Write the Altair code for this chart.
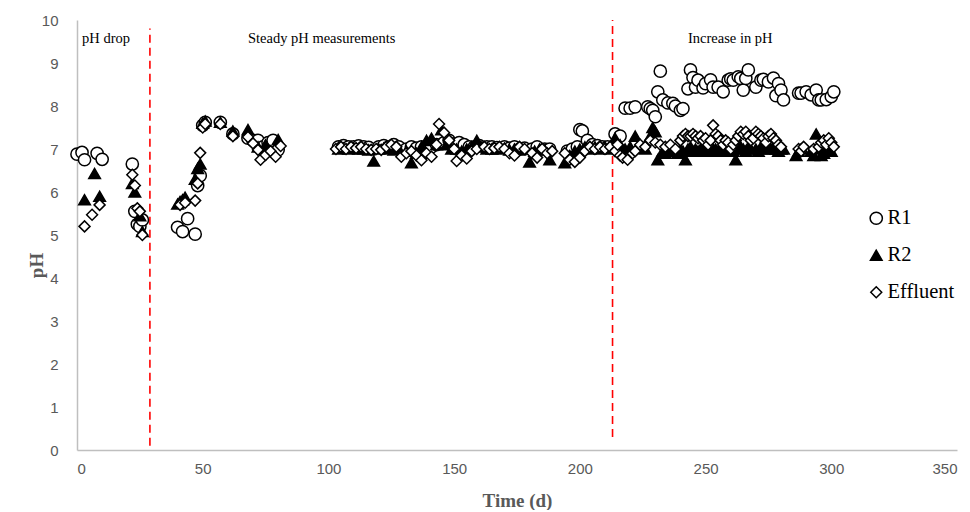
import altair as alt
import pandas as pd

# ---------------- data ----------------
r1_day = [0, 2, 3, 8, 10,
          22, 23, 24, 25, 26,
          40, 42, 44, 47, 48, 49,
          50, 51, 57, 62, 68, 70, 72, 74, 76, 78, 80,
          104, 106, 108, 110, 112, 114, 116, 120, 122, 124, 126, 128, 131, 133, 135, 137,
          139, 141, 143, 146, 148, 150, 152, 154, 156, 158, 160, 163, 165, 167, 170, 172,
          174, 176, 178, 181, 183, 186, 188, 195, 197, 199, 200, 201, 203, 205, 207, 209, 211,
          214, 216, 218, 220, 222, 227, 228, 229, 230, 231, 232, 233, 235, 237, 238, 240, 241,
          243, 244, 245, 246, 247, 249, 250, 252, 253, 255, 257, 259, 260, 261, 263, 264, 265,
          266, 267, 270, 272, 273, 275, 277, 278, 279, 280, 281, 287, 288, 290, 292, 294, 295,
          296, 298, 300, 301]
r1_ph = [6.88, 6.92, 6.75, 6.9, 6.76,
         6.65, 5.55, 5.25, 5.2, 5.35,
         5.18, 5.08, 5.38, 5.02, 6.15, 6.38,
         7.55, 7.62, 7.62, 7.35, 7.25, 7.2, 7.2, 7.05, 7.15, 7.2, 6.98,
         7.05, 7.08, 7.05, 7.05, 7.07, 7.05, 7.04, 7.05, 7.08, 7.05, 7.1, 7.05, 7.0, 7.05, 7.02, 7.05,
         7.0, 7.05, 7.1, 7.15, 7.2, 7.12, 7.15, 7.1, 7.05, 7.05, 7.08, 7.05, 7.05, 7.03, 7.05, 7.02,
         7.05, 7.0, 7.02, 7.0, 7.05, 7.0, 7.0, 6.95, 7.0, 7.05, 7.45, 7.42, 7.2, 7.1, 7.08, 7.05, 7.05,
         7.35, 7.3, 7.95, 7.95, 7.98, 7.98, 7.94, 7.9, 7.75, 8.33, 8.81, 8.14, 8.07, 8.06, 8.0, 7.9, 7.94,
         8.4, 8.84, 8.66, 8.44, 8.6, 8.42, 8.52, 8.61, 8.44, 8.44, 8.33, 8.6, 8.63, 8.6, 8.68, 8.64, 8.37,
         8.64, 8.84, 8.44, 8.6, 8.62, 8.56, 8.65, 8.24, 8.52, 8.37, 8.14, 8.3, 8.3, 8.33, 8.26, 8.37, 8.14,
         8.14, 8.15, 8.22, 8.33]

r2_day = [3, 7, 9,
          22, 23, 25, 26,
          40, 41, 42, 43, 47, 48, 49,
          50, 51, 57, 62, 68, 72, 75, 80,
          104, 106, 108, 110, 112, 114, 116, 118, 120, 122, 124, 126, 128, 131, 133, 135, 137,
          139, 141, 143, 145, 147, 149, 151, 153, 155, 157, 159, 161, 163, 165, 167, 170, 172,
          174, 176, 178, 180, 182, 184, 186, 188, 194, 196, 198, 200, 202, 204, 206, 208, 210, 212,
          214, 216, 218, 220, 222, 224, 226, 228, 229, 230, 231, 233, 234, 235, 236, 237, 238, 239,
          240, 241, 242, 243, 244, 245, 246, 247, 248, 249, 250, 251, 252, 253, 254, 255, 256, 257,
          258, 259, 260, 261, 262, 263, 264, 265, 266, 267, 268, 270, 271, 272, 273, 274, 275, 276,
          277, 278, 279, 280, 281, 286, 287, 288, 292, 293, 294, 295, 296, 297, 298, 299, 300]
r2_ph = [5.82, 6.43, 5.9,
         6.2, 6.0, 5.45, 5.08,
         5.72, 5.78, 5.82, 5.88, 6.3, 6.55, 6.65,
         7.6, 7.65, 7.62, 7.42, 7.45, 7.05, 7.1, 7.22,
         7.0, 7.02, 7.0, 7.02, 7.0, 7.0, 6.98, 6.72, 7.0, 7.02, 7.0, 6.98, 7.0, 6.95, 6.68, 6.9, 7.05,
         7.2, 7.25, 7.1, 7.45, 7.1, 7.0, 7.0, 6.95, 7.0, 7.05, 7.2, 7.05, 7.0, 7.0, 7.0, 7.02, 6.98,
         7.0, 6.98, 7.0, 6.7, 6.95, 7.0, 6.98, 6.75, 6.68, 6.85, 6.95, 7.0, 7.05, 7.0, 7.05, 7.0, 7.05, 7.0,
         7.25, 7.1, 7.0, 7.05, 7.3, 7.1, 7.0, 7.3, 7.5, 7.4, 6.75, 6.95, 6.9, 7.0, 6.95, 6.95, 7.0, 6.9,
         7.0, 6.95, 6.75, 7.0, 7.05, 6.95, 7.0, 6.95, 7.0, 7.05, 6.95, 7.0, 6.95, 7.0, 7.0, 6.95, 7.0, 7.05,
         6.95, 7.0, 7.0, 6.95, 6.75, 7.0, 7.05, 7.0, 6.95, 7.05, 7.0, 7.0, 6.95, 7.05, 7.1, 7.0, 7.05, 7.0,
         7.05, 7.0, 6.95, 7.0, 7.0, 6.85, 6.95, 7.0, 6.95, 6.85, 7.35, 7.0, 6.85, 6.9, 7.0, 7.1, 6.95]

eff_day = [3, 6, 9,
           22, 23, 24, 25, 26,
           41, 43, 47, 48, 49,
           50, 51, 57, 62, 68, 70, 72, 73, 75, 77, 79, 81,
           103, 105, 107, 109, 111, 113, 115, 117, 119, 121, 123, 125, 127, 129, 131, 133, 135,
           137, 139, 141, 143, 144, 146, 148, 150, 151, 153, 155, 157, 159, 162, 164, 166, 168,
           170, 172, 174, 176, 178, 181, 183, 185, 187, 189, 194, 196, 198, 200, 202, 204, 206,
           208, 210, 212,
           214, 215, 216, 217, 219, 221, 222, 224, 226, 228, 230, 232, 234, 236, 238, 240, 241,
           242, 243, 244, 245, 246, 247, 248, 249, 250, 251, 252, 253, 254, 255, 256, 257, 258,
           259, 260, 261, 262, 263, 264, 265, 266, 267, 268, 269, 270, 271, 272, 273, 274, 275,
           276, 277, 278, 279, 280, 287, 288, 289, 293, 295, 296, 297, 298, 299, 300, 301]
eff_ph = [5.2, 5.47, 5.7,
          6.4, 6.15, 5.62, 5.55, 5.0,
          5.7, 5.75, 5.8, 6.2, 6.91,
          7.5, 7.58, 7.58, 7.3, 7.28, 7.13, 6.98, 6.75, 6.86, 6.95, 6.82, 7.07,
          7.0, 7.05, 7.0, 7.05, 7.02, 7.05, 7.0, 6.98, 7.0, 6.98, 7.05, 7.1, 7.05, 6.82, 6.9, 6.95, 6.85,
          6.74, 6.9, 6.82, 7.1, 7.58, 7.38, 7.2, 7.0, 6.72, 6.85, 6.78, 6.95, 7.0, 7.05, 7.0, 7.02, 7.05,
          7.0, 6.9, 6.85, 7.05, 7.0, 6.9, 6.8, 7.0, 6.9, 6.95, 6.9, 6.75, 6.7, 6.8, 6.95, 7.05, 7.0,
          7.05, 7.0, 7.05,
          6.95, 7.1, 6.85, 6.8, 6.75, 6.9, 6.95, 7.1, 7.05, 7.2, 7.15, 7.1, 7.05, 7.1, 7.0, 7.2, 7.3,
          7.35, 7.3, 7.3, 7.35, 7.3, 7.25, 7.3, 7.2, 7.25, 7.1, 7.2, 7.55, 7.35, 7.3, 7.2, 7.1, 7.2,
          7.15, 7.0, 7.1, 7.2, 7.3, 7.4, 7.35, 7.4, 7.3, 7.2, 7.25, 7.4, 7.35, 7.3, 7.25, 7.15, 7.3,
          7.35, 7.25, 7.2, 7.1, 7.05, 7.0, 6.95, 7.05, 7.0, 7.05, 7.15, 7.2, 7.1, 7.25, 7.15, 7.05]

series_names = ["R1", "R2", "Effluent"]
series_shapes = ["circle", "triangle-up", "diamond"]
series_fills = ["white", "black", "white"]
series_strokes = ["black", "black", "black"]
series_sizes = [150, 120, 105]

phase_bound_day = [29, 213]
phase_bound_bottom = [0.1, 0.3]
phase_bound_top = [9.8, 10.0]

phase_labels = ["pH drop", "Steady pH measurements", "Increase in pH"]
phase_label_day = [2, 68, 243]
phase_label_ph = [9.56, 9.56, 9.56]

x_ticks = [0, 50, 100, 150, 200, 250, 300, 350]
y_ticks = list(range(0, 11))

# ---------------- tables ----------------
rows = []
for name, days, vals in [("R1", r1_day, r1_ph), ("R2", r2_day, r2_ph), ("Effluent", eff_day, eff_ph)]:
    for d, v in zip(days, vals):
        rows.append({"day": d, "ph": v, "series": name})
points_df = pd.DataFrame(rows)

rules_df = pd.DataFrame({"day": phase_bound_day, "lo": phase_bound_bottom, "hi": phase_bound_top})
labels_df = pd.DataFrame({"day": phase_label_day, "ph": phase_label_ph, "label": phase_labels})

x_scale = alt.Scale(domain=[0, 350], nice=False)
y_scale = alt.Scale(domain=[0, 10], nice=False)

x_axis = alt.Axis(values=x_ticks, title="Time (d)", grid=False, ticks=False, tickSize=0,
                  labelPadding=11, titleY=41)
y_axis = alt.Axis(values=y_ticks, title="pH", grid=False, ticks=False, tickSize=0,
                  labelPadding=19, titleX=-31, titleY=245)

legend = alt.Legend(title=None, orient="none", legendX=789, legendY=188,
                    labelFont="Liberation Serif", labelFontSize=20.5, labelColor="black",
                    symbolStrokeWidth=1.5,
                    rowPadding=16, labelOffset=1)

points = alt.Chart(points_df).mark_point(filled=True, strokeWidth=1.5, opacity=1).encode(
    x=alt.X("day:Q", scale=x_scale, axis=x_axis),
    y=alt.Y("ph:Q", scale=y_scale, axis=y_axis),
    shape=alt.Shape("series:N", scale=alt.Scale(domain=series_names, range=series_shapes),
                    legend=legend),
    fill=alt.Fill("series:N", scale=alt.Scale(domain=series_names, range=series_fills),
                  legend=legend),
    stroke=alt.Stroke("series:N", scale=alt.Scale(domain=series_names, range=series_strokes),
                      legend=legend),
    size=alt.Size("series:N", scale=alt.Scale(domain=series_names, range=series_sizes),
                  legend=legend),
)

rules = alt.Chart(rules_df).mark_rule(color="#ff0000", strokeWidth=1.6, strokeDash=[8, 5]).encode(
    x=alt.X("day:Q", scale=x_scale),
    y=alt.Y("lo:Q", scale=y_scale),
    y2="hi:Q",
)

labels = alt.Chart(labels_df).mark_text(align="left", baseline="middle", font="Liberation Serif",
                                         fontSize=14.5, color="black").encode(
    x=alt.X("day:Q", scale=x_scale),
    y=alt.Y("ph:Q", scale=y_scale),
    text="label:N",
)

chart = alt.layer(rules, points, labels).properties(
    width=880, height=430,
    autosize=alt.AutoSizeParams(type="none"),
    padding={"left": 69, "top": 12, "right": 5, "bottom": 60},
).configure_view(stroke=None).configure_axis(
    domainColor="#bfbfbf", domainWidth=1.5,
    labelFont="Liberation Sans", labelFontSize=15, labelColor="#595959",
    titleFont="Liberation Serif", titleFontSize=19, titleFontWeight="bold", titleColor="#595959",
)

chart.save("out.html", embed_options={"renderer": "svg", "actions": False})
